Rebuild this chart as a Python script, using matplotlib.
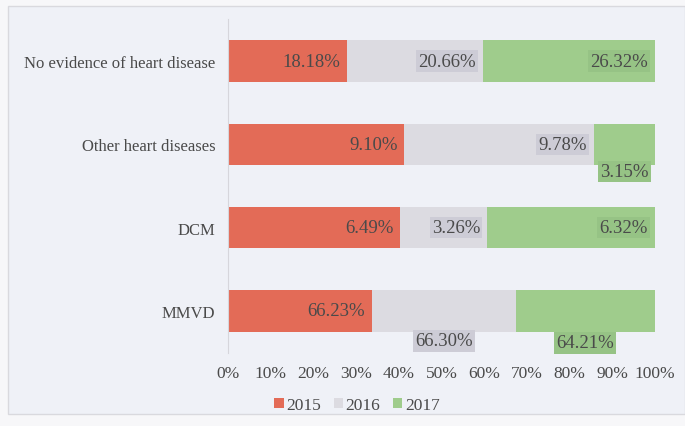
import matplotlib
matplotlib.use("Agg")
import matplotlib.pyplot as plt
from matplotlib.patches import Rectangle, Patch
import numpy as np

categories = ["No evidence of heart disease", "Other heart diseases", "DCM", "MMVD"]
years = ["2015", "2016", "2017"]
v2015 = [18.18, 9.10, 6.49, 66.23]
v2016 = [20.66, 9.78, 3.26, 66.30]
v2017 = [26.32, 3.15, 6.32, 64.21]
xticks = [0, 10, 20, 30, 40, 50, 60, 70, 80, 90, 100]

colors = ["#e36b57", "#dcdbe1", "#9fcc8c"]
box_colors = [None, "#cdccd6", "#96c385"]
# label placement per series: None = inside end, number = below the bar (offset in points)
placement = [
    [None, None, None, None],
    [None, None, None, -6.5],
    [None, -4.5, None, -8],
]

plt.rcParams["font.family"] = ["Liberation Serif", "DejaVu Serif"]
txt_color = "#4a4a4a"

fig = plt.figure(figsize=(6.85, 4.27), dpi=100, facecolor="#f7f7f9")
bg = Rectangle((8 / 685, 12 / 427), 1 - 8 / 685, (415 - 7) / 427,
               transform=fig.transFigure, facecolor="#eff1f7",
               edgecolor="#d9d9de", lw=1.0, zorder=-10)
fig.add_artist(bg)

ax = fig.add_axes([228 / 685, 1 - 353.6 / 427, (655 - 228) / 685, (353.6 - 20.4) / 427])
ax.set_facecolor("none")
ax.set_zorder(1)

series = [np.array(v2015), np.array(v2016), np.array(v2017)]
totals = series[0] + series[1] + series[2]
y = np.arange(len(categories))
left = np.zeros(len(categories))
bh = 0.5
for si, vals in enumerate(series):
    w = vals / totals * 100
    ax.barh(y, w, left=left, height=bh, color=colors[si], label=years[si], zorder=2)
    for ci in range(len(categories)):
        lab = f"{vals[ci]:.2f}%"
        end = left[ci] + w[ci]
        bbox = None
        if box_colors[si] is not None:
            bbox = dict(boxstyle="square,pad=0.12", fc=box_colors[si], ec="none")
        off = placement[si][ci]
        if off is None:
            ax.annotate(lab, (end, y[ci]), xytext=(-5, 0), textcoords="offset points",
                        ha="right", va="center", fontsize=13.5, color=txt_color,
                        bbox=bbox, zorder=4)
        else:
            ax.annotate(lab, (left[ci] + w[ci] / 2, y[ci] + bh / 2), xytext=(0, off),
                        textcoords="offset points", ha="center", va="center",
                        fontsize=13.5, color=txt_color, bbox=bbox, zorder=4)
    left = left + w

ax.set_xlim(0, 100)
ax.set_ylim(len(categories) - 0.5, -0.5)
ax.set_xticks(xticks)
ax.set_xticklabels([f"{t}%" for t in xticks])
ax.set_yticks(y)
ax.set_yticklabels(categories)
ax.tick_params(axis="both", length=0, labelsize=12.5, colors=txt_color)
ax.tick_params(axis="y", pad=9, labelsize=12)
ax.tick_params(axis="x", pad=9)
for s in ["top", "right", "bottom"]:
    ax.spines[s].set_visible(False)
ax.spines["left"].set_color("#d6d6dc")

handles = [Patch(facecolor=c, edgecolor="none") for c in colors]
fig.legend(handles, years, loc="center", bbox_to_anchor=(357 / 685, 1 - 406 / 427),
           ncol=3, frameon=False, fontsize=12.5, handlelength=0.55, handleheight=0.55,
           handletextpad=0.15, columnspacing=0.7, labelcolor=txt_color)

fig.savefig("out.png", dpi=100, facecolor=fig.get_facecolor())
